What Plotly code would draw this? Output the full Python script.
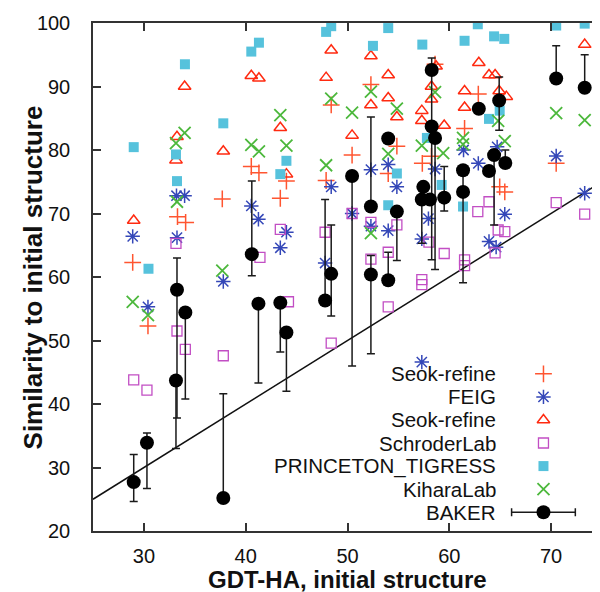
import plotly.graph_objects as go

# ---------------- data ----------------
seok_plus_x = [28.9, 30.4, 33.3, 34.1, 37.7, 40.55, 41.3, 43.4, 44.0, 47.9, 48.4, 50.45, 52.3, 54.0,
               54.85, 57.35, 58.25, 58.6, 61.5, 62.85, 64.95, 65.45, 70.5]
seok_plus_y = [62.3, 52.3, 69.5, 68.6, 72.3, 77.4, 76.4, 72.4, 75.1, 75.2, 87.1, 79.2, 90.3, 76.3,
               80.6, 77.9, 79.0, 93.5, 83.4, 88.8, 74.2, 73.4, 77.9]

feig_x = [28.9, 30.4, 33.2, 34.0, 33.25, 37.8, 40.55, 41.25, 43.4, 44.0, 47.8, 48.4, 50.45, 52.3, 52.3,
          54.0, 54.0, 54.85, 57.3, 57.95, 57.3, 58.6, 61.4, 62.85, 63.9, 64.6, 65.45, 64.7, 70.5, 73.3]
feig_y = [66.4, 55.3, 72.8, 72.8, 66.2, 59.3, 71.2, 69.1, 64.6, 67.05, 62.2, 74.2, 70.0, 76.9, 68.0,
          77.7, 67.3, 74.2, 66.0, 69.2, 46.6, 77.0, 80.0, 77.9, 65.6, 64.7, 69.9, 80.5, 79.05, 73.2]

seok_tri_x = [29.0, 33.25, 33.15, 34.0, 37.8, 40.55, 41.3, 43.4, 44.0, 47.9, 48.4, 50.45, 52.3, 52.3,
              54.0, 54.0, 54.85, 57.3, 57.3, 58.25, 58.25, 58.7, 59.5, 61.5, 61.5, 62.9, 63.9, 64.5,
              64.9, 65.6, 73.3]
seok_tri_y = [68.9, 82.1, 78.4, 90.0, 79.8, 91.7, 91.3, 83.5, 76.2, 91.4, 95.7, 82.3, 94.8, 87.1,
              91.8, 88.2, 85.2, 86.2, 84.6, 90.0, 88.0, 93.2, 83.85, 89.3, 86.7, 93.75, 91.8, 91.8,
              89.3, 88.4, 96.6]

schroder_x = [29.0, 30.3, 33.15, 33.25, 34.07, 37.8, 41.4, 43.4, 44.2, 47.8, 48.4, 50.45, 52.3, 52.3,
              54.0, 54.0, 54.85, 57.3, 57.3, 58.0, 59.5, 61.5, 61.5, 62.8, 63.9, 64.8, 65.45, 64.5,
              70.5, 73.3]
schroder_y = [43.8, 42.2, 65.3, 51.5, 48.6, 47.6, 63.1, 67.5, 56.1, 67.05, 49.6, 70.0, 68.6, 62.8,
              63.9, 55.3, 68.2, 59.6, 58.8, 65.5, 63.7, 62.7, 61.8, 70.3, 71.85, 67.4, 67.15, 63.8,
              71.7, 69.9]

tigress_x = [29.0, 30.45, 34.03, 37.8, 33.15, 33.25, 40.55, 41.3, 43.4, 44.0, 47.9, 48.4, 52.5, 54.0,
             54.0, 54.85, 57.35, 57.8, 59.25, 61.5, 61.35, 62.8, 63.9, 64.4, 65.4, 64.95, 70.5, 73.3]
tigress_y = [80.45, 61.3, 93.5, 84.2, 79.3, 75.1, 95.5, 96.9, 76.2, 78.3, 98.6, 99.5, 96.4, 99.2,
             71.3, 76.3, 96.6, 81.9, 74.5, 97.2, 71.1, 99.8, 84.9, 97.9, 97.5, 86.2, 99.6, 99.9]

kihara_x = [28.9, 30.4, 34.0, 33.15, 33.25, 37.7, 40.55, 41.3, 43.4, 44.0, 47.9, 48.4, 50.45, 52.3,
            52.3, 54.0, 54.85, 57.3, 58.6, 59.4, 61.35, 61.35, 64.8, 65.45, 70.5, 73.3]
kihara_y = [56.1, 54.0, 82.7, 81.1, 71.85, 61.0, 80.8, 79.8, 85.5, 80.7, 77.6, 88.1, 85.9, 89.2,
            66.9, 79.4, 86.5, 80.7, 89.1, 79.5, 81.9, 80.9, 84.6, 81.4, 85.8, 84.7]

baker_x = [29.0, 30.3, 33.15, 33.25, 34.07, 37.8, 40.6, 41.25, 43.4, 44.0, 47.8, 48.4, 50.45, 52.3,
           52.3, 54.0, 54.0, 54.85, 58.27, 58.27, 58.6, 57.45, 57.3, 58.1, 59.5, 61.35, 61.35, 62.9,
           64.9, 64.4, 63.9, 65.5, 70.5, 73.3]
baker_y = [27.7, 33.9, 43.7, 58.0, 54.4, 25.2, 63.6, 55.8, 55.95, 51.25, 56.3, 60.5, 75.9, 71.1,
           60.4, 81.8, 59.5, 70.3, 92.6, 83.7, 81.9, 74.2, 72.2, 72.2, 72.5, 76.8, 73.4, 86.5,
           87.8, 79.2, 76.7, 77.95, 91.25, 89.8]
baker_hi = [32.05, 35.45, 43.7, 63.0, 54.4, 41.6, 75.1, 55.8, 55.95, 51.25, 72.2, 68.2, 75.9, 85.2,
            63.4, 81.8, 63.9, 70.3, 94.5, 83.7, 81.9, 74.2, 72.2, 72.2, 77.4, 76.8, 73.4, 86.5,
            91.5, 80.0, 76.7, 80.0, 96.4, 95.0]
baker_lo = [24.65, 26.7, 33.0, 37.8, 40.8, 25.2, 60.2, 43.3, 48.2, 42.0, 56.3, 53.85, 46.0, 71.1,
            47.9, 81.8, 59.5, 62.6, 83.7, 62.7, 61.2, 72.2, 65.3, 72.2, 70.4, 73.4, 59.1, 86.5,
            83.1, 68.2, 76.7, 77.95, 91.25, 89.8]

series_names = ["Seok-refine", "FEIG", "Seok-refine", "SchroderLab", "PRINCETON_TIGRESS",
                "KiharaLab", "BAKER"]

x_range = [25, 75]
y_range = [20, 100]
x_ticks = [30, 40, 50, 60, 70]
y_ticks = [20, 30, 40, 50, 60, 70, 80, 90, 100]
x_title = "GDT-HA, initial structure"
y_title = "Similarity to initial structure"

# ---------------- styles ----------------
FONT = "Liberation Sans, Arial, Helvetica, sans-serif"
C_PLUS = "#ff5530"
C_FEIG = "#3447b8"
C_TRI = "#ff2a10"
C_SCHR = "#c24ec4"
C_TIG = "#56c2dc"
C_KIH = "#4cb83c"
C_BAK = "#000000"
EB_COLOR = "#1a1a1a"

styles = [
    dict(symbol="cross-thin-open", size=12, color=C_PLUS, line=dict(color=C_PLUS, width=1.5)),
    dict(symbol="asterisk-open", size=12, color=C_FEIG, line=dict(color=C_FEIG, width=1.5)),
    dict(symbol="triangle-up-open", size=11, color=C_TRI, line=dict(color=C_TRI, width=1.5)),
    dict(symbol="square-open", size=10, color=C_SCHR, line=dict(color=C_SCHR, width=1.3)),
    dict(symbol="square", size=10, color=C_TIG, line=dict(width=0)),
    dict(symbol="x-thin-open", size=12, color=C_KIH, line=dict(color=C_KIH, width=1.8)),
    dict(symbol="circle", size=14, color=C_BAK, line=dict(width=0)),
]

fig = go.Figure()

# diagonal reference line y = x across the x range
fig.add_trace(go.Scatter(x=x_range, y=x_range, mode="lines",
                         line=dict(color="#111", width=1.5), hoverinfo="skip"))

data_sets = [
    (seok_plus_x, seok_plus_y),
    (feig_x, feig_y),
    (seok_tri_x, seok_tri_y),
    (schroder_x, schroder_y),
    (tigress_x, tigress_y),
    (kihara_x, kihara_y),
]
for (xs, ys), st, nm in zip(data_sets, styles[:6], series_names[:6]):
    fig.add_trace(go.Scatter(x=xs, y=ys, mode="markers", name=nm, marker=st))

err_plus = [h - y for h, y in zip(baker_hi, baker_y)]
err_minus = [y - l for y, l in zip(baker_y, baker_lo)]
fig.add_trace(go.Scatter(
    x=baker_x, y=baker_y, mode="markers", name="BAKER", marker=styles[6],
    error_y=dict(type="data", symmetric=False, array=err_plus, arrayminus=err_minus,
                 color=EB_COLOR, thickness=1.5, width=4)))

# ---------------- manual gnuplot-style legend (text right-aligned, key on the right) ----------------
LEG_TEXT_X = 0.793
LEG_KEY_X = 0.885
LEG_BOTTOM = 0.037
LEG_STEP = 0.0454
LEG_ERR_HALF = 0.0626
n_leg = len(series_names)

for i, (nm, st) in enumerate(zip(series_names, styles)):
    row_y = LEG_BOTTOM + (n_leg - 1 - i) * LEG_STEP
    kw = {}
    if nm == "BAKER":
        kw["error_x"] = dict(type="constant", value=LEG_ERR_HALF, color=EB_COLOR, thickness=1.5, width=4)
    fig.add_trace(go.Scatter(x=[LEG_KEY_X], y=[row_y], mode="markers", marker=st,
                             xaxis="x2", yaxis="y2", hoverinfo="skip", **kw))
    fig.add_annotation(x=LEG_TEXT_X, y=row_y, xref="paper", yref="paper",
                       text=nm, showarrow=False, xanchor="right", yanchor="middle",
                       borderpad=0,
                       font=dict(family=FONT, size=20.5, color="#111"))

# axis titles (gnuplot places them tight against the tick labels)
fig.add_annotation(x=0.5, y=-0.0959, xref="paper", yref="paper", text="<b>" + x_title + "</b>",
                   showarrow=False, xanchor="center", yanchor="middle", borderpad=0,
                   font=dict(family=FONT, size=24, color="#111"))
fig.add_annotation(x=-0.117, y=0.5, xref="paper", yref="paper", text="<b>" + y_title + "</b>",
                   showarrow=False, xanchor="center", yanchor="middle", textangle=-90, borderpad=0,
                   font=dict(family=FONT, size=26, color="#111"))

axis_common = dict(ticks="inside", ticklen=8, tickwidth=1.5, tickcolor="#333",
                   showline=True, linecolor="#333", linewidth=1.5, mirror="ticks",
                   showgrid=False, zeroline=False,
                   tickfont=dict(family=FONT, size=20, color="#111"))

fig.update_layout(
    width=600, height=592,
    margin=dict(l=85, r=4, t=12, b=69),
    plot_bgcolor="white", paper_bgcolor="white",
    showlegend=False,
    font=dict(family=FONT, color="#111"),
    xaxis=dict(range=x_range, tickvals=x_ticks, ticklabelstandoff=6, **axis_common),
    yaxis=dict(range=y_range, tickvals=y_ticks, ticklabelstandoff=17, **axis_common),
    xaxis2=dict(overlaying="x", range=[0, 1], visible=False, fixedrange=True),
    yaxis2=dict(overlaying="y", range=[0, 1], visible=False, fixedrange=True),
)

fig.write_html("out.html")
